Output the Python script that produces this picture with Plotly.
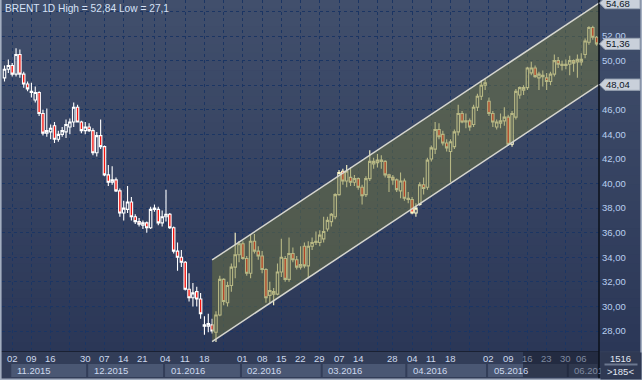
import plotly.graph_objects as go

# ---------------- data ----------------
dates = [
    "2015-10-29", "2015-10-30",
    "2015-11-02", "2015-11-03", "2015-11-04", "2015-11-05", "2015-11-06",
    "2015-11-09", "2015-11-10", "2015-11-11", "2015-11-12", "2015-11-13",
    "2015-11-16", "2015-11-17", "2015-11-18", "2015-11-19", "2015-11-20",
    "2015-11-23", "2015-11-24", "2015-11-25", "2015-11-27",
    "2015-11-30", "2015-12-01", "2015-12-02", "2015-12-03", "2015-12-04",
    "2015-12-07", "2015-12-08", "2015-12-09", "2015-12-10", "2015-12-11",
    "2015-12-14", "2015-12-15", "2015-12-16", "2015-12-17", "2015-12-18",
    "2015-12-21", "2015-12-22", "2015-12-23",
    "2015-12-29", "2015-12-30", "2015-12-31",
    "2016-01-04", "2016-01-05", "2016-01-06", "2016-01-07", "2016-01-08",
    "2016-01-11", "2016-01-12", "2016-01-13", "2016-01-14", "2016-01-15",
    "2016-01-18", "2016-01-19", "2016-01-20", "2016-01-21", "2016-01-22",
    "2016-01-25", "2016-01-26", "2016-01-27", "2016-01-28", "2016-01-29",
    "2016-02-01", "2016-02-02", "2016-02-03", "2016-02-04", "2016-02-05",
    "2016-02-08", "2016-02-09", "2016-02-10", "2016-02-11", "2016-02-12",
    "2016-02-15", "2016-02-16", "2016-02-17", "2016-02-18", "2016-02-19",
    "2016-02-22", "2016-02-23", "2016-02-24", "2016-02-25", "2016-02-26",
    "2016-02-29", "2016-03-01", "2016-03-02", "2016-03-03", "2016-03-04",
    "2016-03-07", "2016-03-08", "2016-03-09", "2016-03-10", "2016-03-11",
    "2016-03-14", "2016-03-15", "2016-03-16", "2016-03-17", "2016-03-18",
    "2016-03-21", "2016-03-22", "2016-03-23", "2016-03-24",
    "2016-03-28", "2016-03-29", "2016-03-30", "2016-03-31", "2016-04-01",
    "2016-04-04", "2016-04-05", "2016-04-06", "2016-04-07", "2016-04-08",
    "2016-04-11", "2016-04-12", "2016-04-13", "2016-04-14", "2016-04-15",
    "2016-04-18", "2016-04-19", "2016-04-20", "2016-04-21", "2016-04-22",
    "2016-04-25", "2016-04-26", "2016-04-27", "2016-04-28", "2016-04-29",
    "2016-05-02", "2016-05-03", "2016-05-04", "2016-05-05", "2016-05-06",
    "2016-05-09", "2016-05-10", "2016-05-11", "2016-05-12", "2016-05-13",
    "2016-05-16", "2016-05-17", "2016-05-18", "2016-05-19", "2016-05-20",
    "2016-05-23", "2016-05-24", "2016-05-25", "2016-05-26", "2016-05-27",
    "2016-05-31", "2016-06-01", "2016-06-02", "2016-06-03",
    "2016-06-06", "2016-06-07", "2016-06-08", "2016-06-09", "2016-06-10",
]

opens = [
    48.6, 49.3,
    49.6, 48.9, 50.5, 48.9, 48.1,
    47.4, 46.8, 47.4, 45.7, 44.1,
    44.2, 44.7, 43.6, 44.0, 44.2,
    44.6, 45.0, 46.2, 45.0,
    44.3, 44.6, 44.3, 42.5, 43.9,
    43.0, 40.7, 40.1, 40.3, 39.4,
    37.6, 37.9, 38.5, 37.3, 36.9,
    36.6, 36.8, 36.4,
    37.9, 37.9, 36.8,
    37.3, 37.5, 36.4, 34.5, 34.0,
    33.6, 31.4, 30.7, 31.2, 30.6,
    28.4, 28.4, 28.5, 27.9, 29.3,
    32.2, 30.3, 31.7, 33.2, 34.2,
    35.1, 33.9, 32.7, 35.3, 34.5,
    34.1, 33.0, 30.9, 31.0, 31.0,
    32.8, 33.9, 32.2, 34.3, 33.8,
    33.2, 34.9, 33.3, 34.9, 35.2,
    35.2, 35.5, 36.3, 36.9, 37.3,
    39.1, 41.0, 40.2, 40.5, 40.1,
    40.4, 39.7, 39.1, 40.4, 41.6,
    41.7, 41.8, 41.8, 40.7,
    40.5, 40.3, 39.4, 40.2, 38.8,
    38.7, 37.6, 38.3, 39.9, 39.7,
    42.0, 42.8, 44.4, 44.0, 43.3,
    42.6, 43.0, 44.2, 45.7, 45.0,
    45.1, 44.8, 46.2, 47.1, 48.0,
    46.7, 45.7, 44.6, 44.9, 45.1,
    45.4, 43.2, 45.4, 47.2, 47.6,
    47.8, 49.0, 49.4, 48.6, 48.7,
    48.6, 48.3, 48.9, 50.0, 49.6,
    49.6, 49.7, 50.0, 49.9,
    49.9, 50.5, 51.5, 52.7, 51.9,
]

highs = [
    49.6, 50.1,
    49.8, 51.0, 50.9, 49.1, 48.3,
    48.2, 47.9, 47.5, 46.0, 46.1,
    44.8, 45.0, 44.3, 44.6, 45.2,
    45.3, 46.6, 46.4, 45.1,
    45.0, 44.9, 44.5, 44.2, 45.2,
    43.1, 41.5, 41.4, 40.5, 39.6,
    38.6, 39.8, 38.9, 37.5, 37.2,
    37.0, 36.9, 38.1,
    38.3, 38.1, 37.8,
    39.5, 37.6, 36.5, 35.2, 34.6,
    33.7, 32.7, 31.9, 31.6, 31.1,
    29.2, 29.4, 29.0, 29.6, 32.5,
    32.3, 32.0, 33.5, 36.0, 35.3,
    35.3, 34.1, 35.9, 35.9, 34.9,
    34.5, 33.1, 32.0, 31.5, 33.5,
    35.5, 34.1, 35.6, 34.8, 34.1,
    34.9, 35.2, 35.3, 35.6, 36.1,
    36.2, 37.3, 37.3, 37.6, 39.2,
    41.1, 41.2, 41.5, 41.3, 40.7,
    40.5, 39.9, 40.6, 42.7, 42.1,
    42.4, 42.3, 41.9, 40.8,
    40.7, 40.4, 40.9, 40.4, 39.3,
    38.9, 38.4, 40.1, 40.5, 42.1,
    43.1, 45.0, 44.9, 44.3, 43.6,
    43.6, 44.4, 46.4, 45.9, 45.7,
    45.3, 46.4, 47.3, 48.4, 48.5,
    47.0, 45.9, 45.2, 45.7, 46.2,
    45.6, 45.9, 47.7, 47.9, 48.0,
    49.5, 49.9, 49.6, 49.1, 49.2,
    49.0, 49.1, 50.5, 50.3, 50.0,
    50.1, 50.4, 50.1, 50.5,
    50.6, 51.8, 52.8, 52.84, 52.0,
]

lows = [
    48.3, 49.0,
    48.7, 48.7, 48.6, 47.8, 47.5,
    47.0, 46.6, 45.5, 43.9, 43.8,
    43.6, 43.3, 43.4, 43.8, 43.7,
    44.0, 44.6, 45.0, 44.1,
    44.0, 44.2, 42.3, 42.2, 42.8,
    40.6, 39.8, 39.9, 39.3, 37.3,
    37.0, 37.6, 37.0, 36.7, 36.5,
    36.3, 36.0, 36.3,
    37.7, 36.6, 36.5,
    36.9, 36.3, 34.3, 32.9, 33.2,
    31.3, 30.4, 30.0, 30.0, 29.0,
    27.7, 27.9, 27.8, 27.1, 29.2,
    30.1, 30.0, 31.2, 32.3, 33.6,
    33.8, 32.5, 32.3, 34.3, 33.8,
    32.7, 30.3, 30.3, 30.1, 30.9,
    32.4, 32.0, 32.0, 33.6, 33.0,
    33.0, 33.1, 32.3, 34.6, 35.0,
    34.9, 35.2, 36.1, 36.5, 37.1,
    39.0, 39.9, 39.7, 39.8, 39.8,
    39.5, 38.3, 38.9, 40.2, 41.2,
    41.3, 41.2, 40.5, 39.3,
    39.9, 39.3, 38.8, 38.6, 38.4,
    37.5, 37.3, 38.2, 39.1, 39.5,
    41.8, 42.4, 43.6, 43.1, 42.6,
    40.1, 42.8, 43.9, 44.9, 44.5,
    44.3, 44.6, 45.9, 46.8, 47.6,
    45.5, 44.6, 44.4, 44.5, 44.7,
    43.1, 43.0, 45.2, 46.9, 47.2,
    47.6, 48.8, 48.6, 47.6, 47.9,
    47.6, 48.0, 48.7, 49.4, 49.2,
    49.3, 48.8, 49.1, 48.6,
    49.6, 50.2, 51.3, 51.7, 51.2,
]

closes = [
    49.3, 49.6,
    48.9, 50.5, 48.9, 48.1, 47.7,
    47.5, 47.4, 45.7, 44.1, 44.3,
    44.5, 43.6, 44.0, 44.3, 44.8,
    45.0, 46.2, 45.0, 44.3,
    44.6, 44.3, 42.5, 43.9, 43.0,
    40.7, 40.1, 40.3, 39.4, 37.6,
    38.0, 38.5, 37.3, 36.9, 36.7,
    36.8, 36.4, 37.9,
    38.0, 36.8, 37.3,
    37.5, 36.4, 34.5, 34.0, 33.6,
    31.4, 30.7, 31.1, 30.6, 29.4,
    28.5, 28.6, 28.0, 29.3, 32.2,
    30.4, 31.7, 33.2, 34.2, 35.1,
    33.9, 32.7, 35.3, 34.5, 34.1,
    33.0, 30.7, 31.3, 31.2, 32.8,
    34.0, 32.2, 34.3, 33.8, 33.2,
    33.4, 33.3, 34.9, 35.2, 35.3,
    35.8, 36.1, 37.0, 37.5, 39.1,
    40.9, 40.2, 41.0, 40.1, 40.4,
    39.7, 39.0, 40.4, 41.8, 41.8,
    41.9, 41.9, 40.7, 40.5,
    40.3, 39.5, 40.2, 38.8, 38.7,
    37.6, 38.0, 39.9, 39.6, 41.9,
    42.9, 44.4, 43.8, 43.3, 42.9,
    43.4, 44.2, 45.7, 45.0, 45.1,
    44.6, 46.2, 47.1, 48.0, 48.2,
    45.7, 45.0, 45.0, 45.1, 45.4,
    43.2, 45.7, 47.5, 47.8, 47.8,
    49.4, 49.4, 48.7, 48.9, 48.8,
    48.3, 48.9, 50.0, 49.7, 49.7,
    49.7, 50.0, 49.8, 50.1,
    50.1, 51.6, 52.7, 51.9, 51.36,
]

# first trading day of each week and the day label shown under it
week_starts = [
    "2015-11-02", "2015-11-09", "2015-11-16", "2015-11-23", "2015-11-30",
    "2015-12-07", "2015-12-14", "2015-12-21", "2015-12-29", "2016-01-04",
    "2016-01-11", "2016-01-18", "2016-01-25", "2016-02-01", "2016-02-08",
    "2016-02-15", "2016-02-22", "2016-02-29", "2016-03-07", "2016-03-14",
    "2016-03-21", "2016-03-28", "2016-04-04", "2016-04-11", "2016-04-18",
    "2016-04-25", "2016-05-02", "2016-05-09", "2016-05-16", "2016-05-23",
    "2016-05-31", "2016-06-06",
]
week_labels = [
    "02", "09", "16", "", "30",
    "07", "14", "21", "", "04",
    "11", "18", "", "01", "08",
    "15", "22", "29", "07", "14",
    "", "28", "04", "11", "18",
    "", "02", "09", "16", "23",
    "30", "06",
]
month_keys = ["2015-11", "2015-12", "2016-01", "2016-02", "2016-03", "2016-04", "2016-05", "2016-06"]
month_labels = ["11.2015", "12.2015", "01.2016", "02.2016", "03.2016", "04.2016", "05.2016", "06.2016"]

price_ticks = [28, 30, 32, 34, 36, 38, 40, 42, 44, 46, 48, 50, 52, 54]
title_text = "BRENT 1D High = 52,84 Low = 27,1"
last_price = 51.36

# trend channel (drawn from the January low)
channel_start_date = "2016-01-20"
channel_low_start = 27.14
channel_low_end = 48.04
channel_width = 6.64

corner_top = "1516"
corner_bottom = ">185&lt;"

# ---------------- geometry ----------------
W, H = 642, 380
PL, PR, PT, PB = 2, 599, 0, 351          # plot area in pixels
BAR_PX, FIRST_PX = 3.845, 4.5             # bar spacing, first bar centre
PX_PER_UNIT, Y28_PX = 12.29, 331.0

x_lo = (PL - FIRST_PX) / BAR_PX
x_hi = x_lo + (PR - PL) / BAR_PX
y_lo = 28 - (PB - Y28_PX) / PX_PER_UNIT
y_hi = 28 + (Y28_PX - PT) / PX_PER_UNIT


def xp(px):
    return (px - PL) / (PR - PL)


def yp(py):
    return (PB - py) / (PB - PT)


def ip(i):
    return (i - x_lo) / (x_hi - x_lo)


idx = list(range(len(dates)))
pos = {d: i for i, d in enumerate(dates)}
ch_i = pos[channel_start_date]

FONT = "Liberation Sans, Arial, sans-serif"
FS = 9.5
WHITE = "#ffffff"
CREAM = "#fdf8c8"
RED = "#f5150f"
GRID = "#1b3563"

fig = go.Figure()

# channel fill + borders
ch_x = [ch_i, x_hi, x_hi, ch_i]
ch_y = [channel_low_start, channel_low_end, channel_low_end + channel_width, channel_low_start + channel_width]
fig.add_trace(go.Scatter(x=ch_x, y=ch_y, fill="toself", mode="lines", line=dict(width=0),
                         fillcolor="rgba(112,118,63,0.5)", hoverinfo="skip", showlegend=False))
for off in (0, channel_width):
    fig.add_trace(go.Scatter(x=[ch_i, x_hi], y=[channel_low_start + off, channel_low_end + off],
                             mode="lines", line=dict(color="#d6d6cf", width=1.5),
                             hoverinfo="skip", showlegend=False))

# candles: before the channel white, inside the channel cream
for a, b, col in ((0, ch_i + 1, WHITE), (ch_i + 1, len(dates), CREAM)):
    fig.add_trace(go.Candlestick(
        x=idx[a:b], open=opens[a:b], high=highs[a:b], low=lows[a:b], close=closes[a:b],
        increasing=dict(line=dict(color=col, width=1.1), fillcolor="rgba(0,0,0,0)"),
        decreasing=dict(line=dict(color=col, width=1.1), fillcolor=RED),
        whiskerwidth=0, hoverinfo="skip", showlegend=False))

shapes = []
# vertical gradient background (plot + price panel)
top_c, bot_c = (65, 79, 108), (43, 55, 87)
NB = 40
for k in range(NB):
    t = (k + 0.5) / NB
    c = tuple(round(top_c[j] + (bot_c[j] - top_c[j]) * t) for j in range(3))
    shapes.append(dict(type="rect", xref="paper", yref="paper", layer="below",
                       x0=xp(0), x1=xp(W), y0=yp(PB * k / NB), y1=yp(PB * (k + 1) / NB + 0.6),
                       fillcolor="rgb(%d,%d,%d)" % c, line=dict(width=0)))
# time-axis strip
shapes.append(dict(type="rect", xref="paper", yref="paper", layer="below",
                   x0=xp(0), x1=xp(W), y0=yp(H), y1=yp(PB), fillcolor="#323d58", line=dict(width=0)))
# month boxes
for key in month_keys:
    ii = [i for i, d in enumerate(dates) if d.startswith(key)]
    x0 = max(ip(ii[0] - 0.5), xp(7))
    x1 = min(ip(ii[-1] + 0.5), xp(PR))
    shapes.append(dict(type="rect", xref="paper", yref="paper", layer="below",
                       x0=x0 + 1 / (PR - PL), x1=x1 - 1 / (PR - PL), y0=yp(377), y1=yp(364),
                       fillcolor="#4a5773", line=dict(width=0)))
# darkened right part of the time strip
shapes.append(dict(type="rect", xref="paper", yref="paper", layer="above",
                   x0=xp(523), x1=xp(PR), y0=yp(377), y1=yp(352),
                   fillcolor="rgba(20,26,42,0.5)", line=dict(width=0)))
# frame lines
shapes.append(dict(type="line", xref="paper", yref="paper", layer="above",
                   x0=xp(0), x1=xp(PR), y0=yp(351.5), y1=yp(351.5), line=dict(color="#1a2133", width=1)))
shapes.append(dict(type="line", xref="paper", yref="paper", layer="above",
                   x0=xp(PR), x1=xp(PR), y0=yp(0), y1=yp(H), line=dict(color="#0b101a", width=1.5)))
shapes.append(dict(type="rect", xref="paper", yref="paper", layer="above",
                   x0=xp(0), x1=xp(1.6), y0=yp(0), y1=yp(H), fillcolor="#a3aec0", line=dict(width=0)))
shapes.append(dict(type="rect", xref="paper", yref="paper", layer="above",
                   x0=xp(0), x1=xp(W), y0=yp(H), y1=yp(378.4), fillcolor="#a3aec0", line=dict(width=0)))
shapes.append(dict(type="rect", xref="paper", yref="paper", layer="above",
                   x0=xp(640.4), x1=xp(W), y0=yp(0), y1=yp(H), fillcolor="#a3aec0", line=dict(width=0)))


def tag_path(yc):
    h = 5.6
    pts = [(599.5, yc), (605, yc - h), (640, yc - h), (640, yc + h), (605, yc + h)]
    return "M " + " L ".join("%.5f,%.5f" % (xp(a), yp(b)) for a, b in pts) + " Z"


def val_px(v):
    return Y28_PX - (v - 28) * PX_PER_UNIT


channel_up_end = channel_low_end + channel_width
tags = [(channel_up_end, "%.2f" % channel_up_end), (last_price, "%.2f" % last_price),
        (channel_low_end, "%.2f" % channel_low_end)]
for v, _ in tags:
    shapes.append(dict(type="path", xref="paper", yref="paper", layer="above",
                       path=tag_path(val_px(v)), fillcolor="#c9d0da",
                       line=dict(color="#9aa5b5", width=1)))

ann = []
ann.append(dict(text=title_text, x=xp(3), y=yp(8.2), xref="paper", yref="paper",
                xanchor="left", yanchor="middle", showarrow=False,
                font=dict(family=FONT, size=10.2, color="#d6e2f7")))
for d, lab in zip(week_starts, week_labels):
    if not lab:
        continue
    i = pos[d]
    dim = i * BAR_PX + FIRST_PX > 521
    ann.append(dict(text=lab, x=i, y=yp(358.5), xref="x", yref="paper",
                    xanchor="center", yanchor="middle", showarrow=False,
                    font=dict(family=FONT, size=FS, color="#7f8aa0" if dim else "#cdd9ee")))
for key, lab in zip(month_keys, month_labels):
    ii = [i for i, d in enumerate(dates) if d.startswith(key)]
    x0 = max(ip(ii[0] - 0.5), xp(7))
    dim = key == "2016-06"
    ann.append(dict(text=lab, x=x0, y=yp(370.5), xref="paper", yref="paper", xshift=4.5,
                    xanchor="left", yanchor="middle", showarrow=False,
                    font=dict(family=FONT, size=FS, color="#7f8aa0" if dim else "#cdd9ee")))
# corner panel covering the clipped month label
ann.append(dict(text="", x=xp(600), y=yp(352), xref="paper", yref="paper",
                xanchor="left", yanchor="top", showarrow=False, width=40, height=26,
                bgcolor="#2f3953", borderpad=0, font=dict(size=4)))
ann.append(dict(text=corner_top, x=xp(620.5), y=yp(358.5), xref="paper", yref="paper",
                xanchor="center", yanchor="middle", showarrow=False,
                font=dict(family=FONT, size=FS, color="#e2e8f2")))
ann.append(dict(text=corner_bottom, x=xp(620.5), y=yp(371), xref="paper", yref="paper",
                xanchor="center", yanchor="middle", showarrow=False,
                font=dict(family=FONT, size=FS, color="#e2e8f2")))
ann.append(dict(text="", x=xp(604), y=yp(364.5), xref="paper", yref="paper",
                xanchor="left", yanchor="middle", showarrow=False, width=32, height=1,
                bgcolor="#6c7890", borderpad=0, font=dict(size=1)))
for v, txt in tags:
    ann.append(dict(text=txt.replace(".", ","), x=xp(603.5), y=v, xref="paper", yref="y",
                    xanchor="left", yanchor="middle", showarrow=False,
                    font=dict(family=FONT, size=FS, color="#0d1626")))

fig.update_layout(
    width=W, height=H,
    margin=dict(l=PL, r=W - PR, t=PT, b=H - PB, pad=0),
    paper_bgcolor="#323d58", plot_bgcolor="rgba(0,0,0,0)",
    separators=", ",
    showlegend=False, hovermode=False, boxgap=0.08,
    shapes=shapes, annotations=ann,
    xaxis=dict(range=[x_lo, x_hi], rangeslider=dict(visible=False), showticklabels=False,
               tickvals=[pos[d] for d in week_starts], ticks="",
               showgrid=True, gridcolor=GRID, griddash="3px,3px", gridwidth=1,
               zeroline=False, showline=False, fixedrange=True),
    yaxis=dict(range=[y_lo, y_hi], side="right", tickvals=price_ticks,
               ticktext=[("%.2f" % v).replace(".", ",") if v < 54 else "" for v in price_ticks],
               tickfont=dict(family=FONT, size=FS, color="#b9cff0"),
               ticks="", ticklabelstandoff=2,
               showgrid=True, gridcolor=GRID, griddash="3px,3px", gridwidth=1,
               zeroline=False, showline=False, fixedrange=True),
)

fig.write_html("out.html", config={"displayModeBar": False},
               post_script="document.body.style.margin='0';document.body.style.overflow='hidden';")
